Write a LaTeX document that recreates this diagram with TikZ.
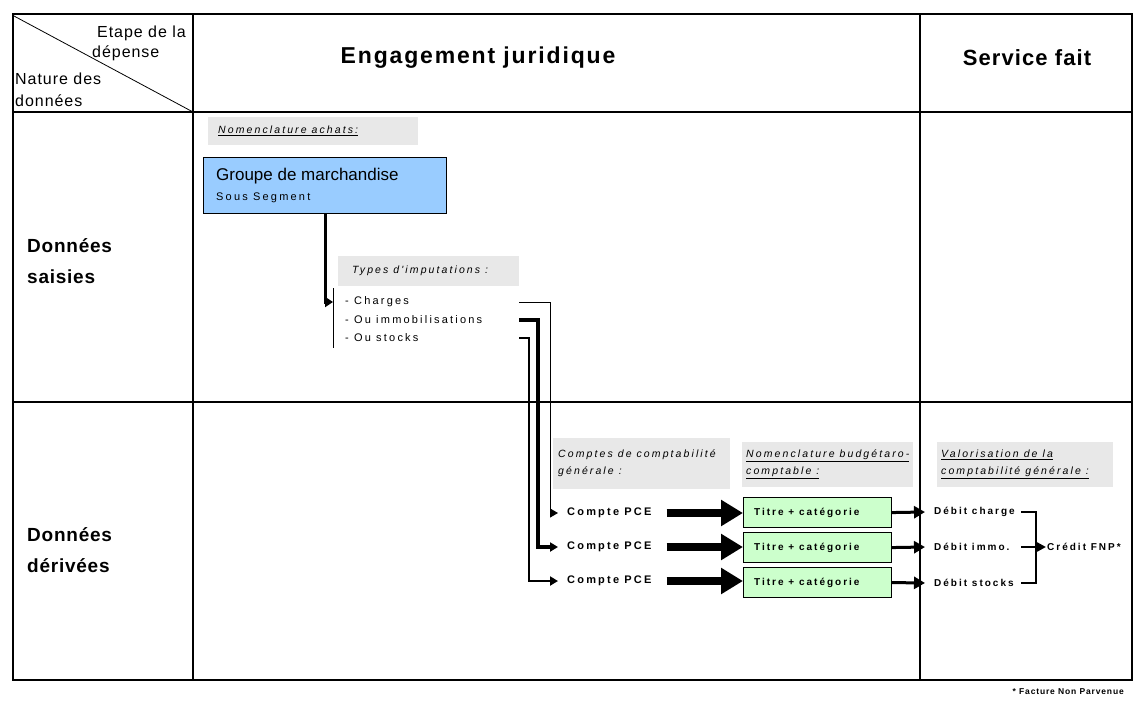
\documentclass[tikz,border=0pt]{standalone}
\usepackage{fontspec}
\setmainfont{Liberation Sans}
\newfontfamily\smallsp[LetterSpace=20]{Liberation Sans}
\newfontfamily\footsp[LetterSpace=10]{Liberation Sans}
\newfontfamily\cellsp[LetterSpace=6]{Liberation Sans}
\newfontfamily\headsp[LetterSpace=8]{Liberation Sans}
\newfontfamily\headtight[LetterSpace=5]{Liberation Sans}
\newfontfamily\rowsp[LetterSpace=4]{Liberation Sans}
\usetikzlibrary{arrows.meta,calc}
\definecolor{lblgray}{RGB}{232,232,232}
\definecolor{boxblue}{RGB}{153,204,255}
\definecolor{boxgreen}{RGB}{204,255,204}
\begin{document}
\begin{tikzpicture}[x=1pt,y=-1pt,
  gridline/.style={line width=1.1pt},
  framelines/.style={line width=2.6pt},
  graybox/.style={fill=lblgray, anchor=north west, inner sep=0pt},
  lbltxt/.style={anchor=west, inner sep=0pt, align=left, font=\smallsp\fontsize{10.5}{17}\selectfont\itshape},
  itemtxt/.style={anchor=west, inner xsep=0pt, inner ysep=1pt, font=\smallsp\fontsize{11}{12}\selectfont},
  pcetxt/.style={anchor=west, inner xsep=9pt, inner ysep=1pt, font=\smallsp\bfseries\fontsize{11}{12}\selectfont},
  debtxt/.style={anchor=west, inner xsep=9pt, inner ysep=1pt, font=\smallsp\bfseries\fontsize{10}{12}\selectfont},
  titrebox/.style={draw, line width=1.1pt, fill=boxgreen, anchor=north west, minimum width=148pt, minimum height=30pt, inner sep=0pt},
  titretxt/.style={anchor=west, inner sep=0pt, font=\smallsp\bfseries\fontsize{10}{11}\selectfont},
  rowhead/.style={anchor=west, inner sep=0pt, align=left, font=\rowsp\bfseries\fontsize{19}{31}\selectfont},
  colhead/.style={inner sep=0pt, font=\bfseries},
  celltxt/.style={anchor=base west, inner sep=0pt, font=\cellsp\fontsize{16}{18}\selectfont},
  bigarrow/.style={line width=8pt, -{Triangle[length=22pt,width=25pt]}},
  midarrow/.style={line width=3pt, -{Triangle[length=11pt,width=12pt]}},
  smallhead/.style={-{Triangle[length=8pt,width=9pt]}},
  bracket/.style={line width=2.8pt}
]
\useasboundingbox (0,0) rectangle (1134,702);

% ---- table grid ----
\coordinate (tl) at (13,14);
\coordinate (br) at (1132,680);
\draw[gridline] (13,112) -- (1132,112);
\draw[gridline] (13,402) -- (1132,402);
\draw[gridline] (193,14) -- (193,680);
\draw[gridline] (920,14) -- (920,680);
\draw[line width=0.8pt] (14,16) -- (193,112);
\draw[framelines] (tl) rectangle (br);

% ---- header cells ----
\node[celltxt] (etape) at (97,37) {Etape de la};
\node[celltxt] (dep) at (92,57) {dépense};
\node[celltxt] (nat) at (15,84) {Nature des};
\node[celltxt] (don) at (15,106) {données};
\node[colhead] (ej) at (478,58) {\headsp\fontsize{23}{26}\selectfont Engagement juridique};
\node[colhead] (sf) at (1027,58) {\headtight\fontsize{22}{26}\selectfont Service fait};
\node[rowhead] (ds) at (27,261) {Données\\saisies};
\node[rowhead] (dd) at (27,550) {Données\\dérivées};

% ---- purchase nomenclature ----
\node[graybox, minimum width=210pt, minimum height=28pt] (nabox) at (208,117) {};
\node[lbltxt] (natxt) at ($(nabox.west)+(10,0)$) {\underline{Nomenclature achats:}};
\node[draw, line width=1.4pt, fill=boxblue, anchor=north west, minimum width=243pt, minimum height=56pt, inner sep=0pt] (grp) at (203,157) {};
\node[anchor=base west, inner sep=0pt, font=\fontsize{17}{20}\selectfont] (grpt) at (216,180) {Groupe de marchandise};
\node[anchor=base west, inner sep=0pt, font=\smallsp\fontsize{11}{12}\selectfont] (sseg) at (216,200) {Sous Segment};

% ---- imputation types ----
\node[graybox, minimum width=181pt, minimum height=30pt] (tybox) at (338,256) {};
\node[lbltxt] (tytxt) at ($(tybox.west)+(14,0)$) {Types d'imputations :};
\coordinate (bartop) at (333,288);
\coordinate (barbot) at (333,348);
\draw[line width=1pt] (bartop) -- (barbot);
\node[itemtxt] (chg) at (345,302) {- Charges};
\node[itemtxt] (imm) at (345,320) {- Ou immobilisations};
\node[itemtxt] (stk) at (345,338) {- Ou stocks};
\draw[line width=3.2pt, -{Triangle[length=8pt,width=10pt]}] (grp.south) |- (bartop |- chg);

% ---- derived data labels ----
\node[graybox, minimum width=177pt, minimum height=51pt] (cpbox) at (553,438) {};
\node[lbltxt] (cptxt) at ($(cpbox.west)+(5,0)$) {Comptes de comptabilité\\générale :};
\node[graybox, minimum width=171pt, minimum height=45pt] (nbbox) at (742,442) {};
\node[lbltxt] (nbtxt) at ($(nbbox.west)+(4,0)$) {\underline{Nomenclature budgétaro-}\\\underline{comptable :}};
\node[graybox, minimum width=176pt, minimum height=45pt] (vlbox) at (937,442) {};
\node[lbltxt] (vltxt) at ($(vlbox.west)+(4,0)$) {\underline{Valorisation de la}\\\underline{comptabilité générale :}};

% ---- general ledger accounts ----
\node[pcetxt] (pce1) at (558,513) {Compte PCE};
\node[pcetxt] (pce2) at (558,547) {Compte PCE};
\node[pcetxt] (pce3) at (558,581) {Compte PCE};

\coordinate (k1) at (550,0);
\coordinate (k2) at (538,0);
\coordinate (k3) at (529,0);
\draw[line width=1pt, smallhead] (tybox.east |- chg) -| (k1 |- pce1) -- (pce1.west);
\draw[line width=4pt, smallhead] (tybox.east |- imm) -| (k2 |- pce2) -- (pce2.west);
\draw[line width=2.2pt, smallhead] (tybox.east |- stk) -| (k3 |- pce3) -- (pce3.west);

% ---- budget nomenclature ----
\node[titrebox] (t1) at (743,497) {};
\node[titrebox] (t2) at (743,532) {};
\node[titrebox] (t3) at (743,567) {};
\node[titretxt] (t1t) at ($(t1.west)+(11,0)$) {Titre + catégorie};
\node[titretxt] (t2t) at ($(t2.west)+(11,0)$) {Titre + catégorie};
\node[titretxt] (t3t) at ($(t3.west)+(11,0)$) {Titre + catégorie};

\draw[bigarrow] ($(pce1.east)+(6,0)$) -- (t1.west |- pce1);
\draw[bigarrow] ($(pce2.east)+(6,0)$) -- (t2.west |- pce2);
\draw[bigarrow] ($(pce3.east)+(6,0)$) -- (t3.west |- pce3);

% ---- general ledger valuation ----
\node[debtxt] (d1) at (925,512) {Débit charge};
\node[debtxt] (d2) at (925,547) {Débit immo.};
\node[debtxt] (d3) at (925,583) {Débit stocks};
\draw[midarrow] (t1.east) -- (d1.west);
\draw[midarrow] (t2.east) -- (d2.west);
\draw[midarrow] (t3.east) -- (d3.west);

\coordinate (brl) at (1021,0);
\coordinate (brx) at (1036,0);
\node[anchor=west, inner xsep=1pt, inner ysep=1pt, font=\smallsp\bfseries\fontsize{10}{12}\selectfont] (cr) at (1046,547) {Crédit FNP*};
\draw[bracket] (brl |- d1) -- (brx |- d1) -- (brx |- d3) -- (brl |- d3);
\draw[bracket] (brl |- d2) -- (brx |- d2);
\draw[line width=2.2pt, -{Triangle[length=9pt,width=9pt]}] (brx |- d2) -- (cr.west);

% ---- footnote ----
\node[anchor=east, inner sep=0pt, font=\footsp\bfseries\fontsize{8.5}{10}\selectfont] (fn) at (1124,692) {* Facture Non Parvenue};
\end{tikzpicture}
\end{document}
